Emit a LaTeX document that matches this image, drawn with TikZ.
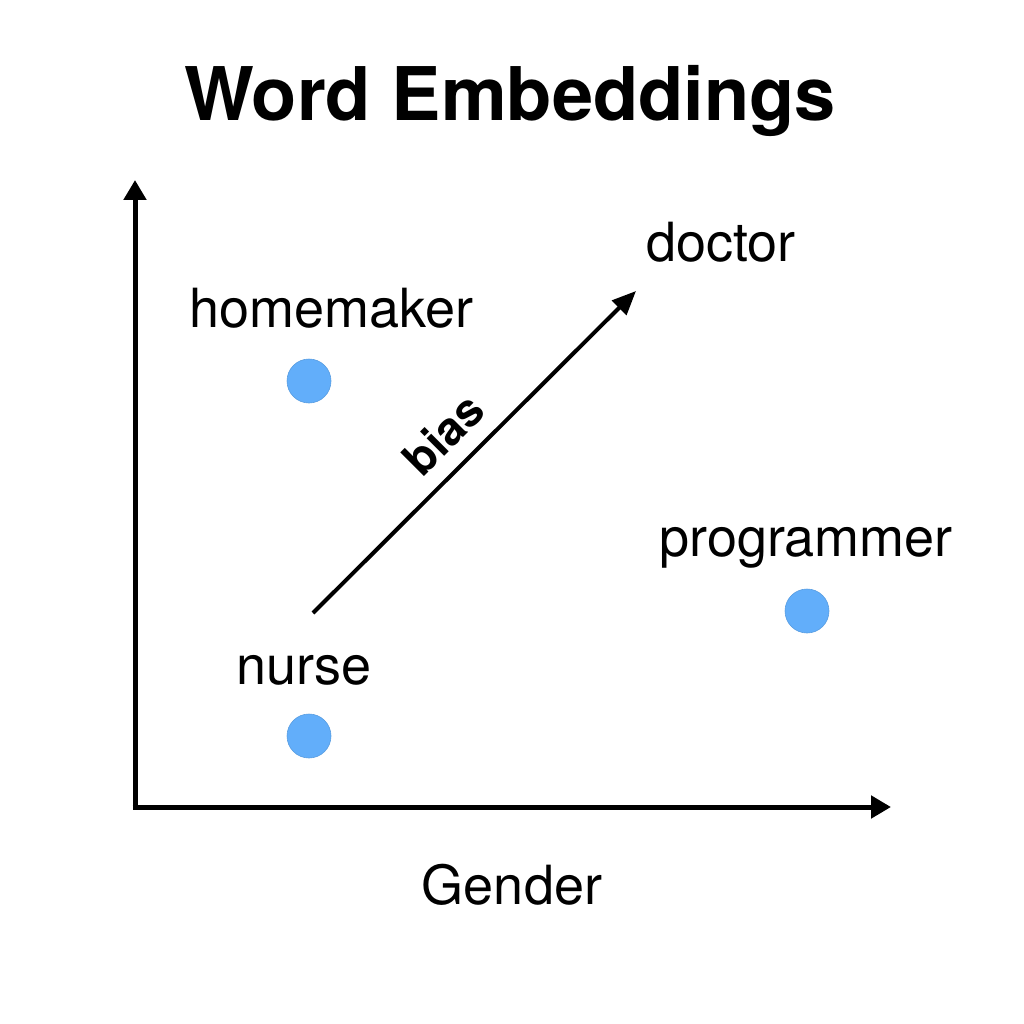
\documentclass[tikz,border=0pt]{standalone}
\usepackage{fontspec}
\setmainfont{TeX Gyre Heros}
\usetikzlibrary{arrows.meta}
\begin{document}
\begin{tikzpicture}[x=1pt,y=-1pt,
  axis/.style={line width=5pt,-{Triangle[length=20pt,width=22pt]}},
  dot/.style={circle,fill=dotblue,draw=dotblue!90!black,line width=0.6pt,minimum size=44pt,inner sep=0pt},
  lbl/.style={font=\fontsize{54}{58}\selectfont,anchor=base,inner sep=0pt},
]
\definecolor{dotblue}{RGB}{98,174,250}
\useasboundingbox (0,0) rectangle (1024,1024);
\fill[white] (0,0) rectangle (1024,1024);
\node[font=\fontsize{74}{78}\selectfont\bfseries,anchor=base,inner sep=0pt] (title) at (510,121) {Word Embeddings};
\coordinate (o) at (135,807);
\coordinate (ytip) at (135,180);
\coordinate (xtip) at (891,807);
\draw[axis] (135,809.5) -- (ytip);
\draw[axis] (132.5,807) -- (xtip);
\node[dot] (home) at (309,381) {};
\node[dot] (nurse) at (309,736) {};
\node[dot] (prog) at (807,611) {};
\node[lbl] (homel) at (331,327) {homemaker};
\node[lbl] (doctorl) at (721,261) {doctor};
\node[lbl] (progl) at (806,556) {programmer};
\node[lbl] (nursel) at (304,684) {nurse};
\node[lbl] (genderl) at (512,904) {Gender};
\coordinate (bs) at (313,613);
\coordinate (be) at (636,291);
\draw[line width=4pt,-{Triangle[length=24pt,width=20pt]}] (bs) -- (be);
\node[font=\fontsize{46}{50}\selectfont\bfseries,rotate=45,inner sep=0pt] (bias) at (443,434) {bias};
\end{tikzpicture}
\end{document}
